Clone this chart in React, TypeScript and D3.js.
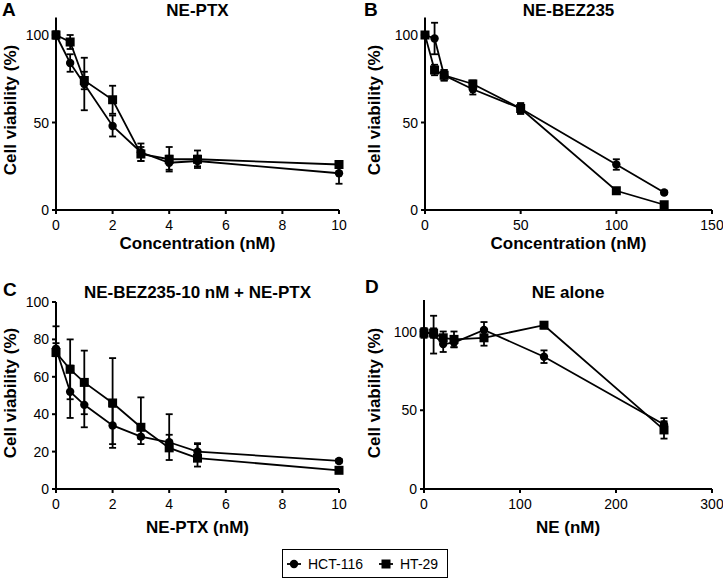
import React from "react";
import * as d3 from "d3";

// Panel A: NE-PTX
const aX = [0, 0.5, 1, 2, 3, 4, 5, 10];
const aHct = [100, 84, 72, 48, 33, 27, 28, 21];
const aHctErr = [2, 5, 15, 6, 5, 4, 3, 6];
const aHt = [100, 96, 74, 63, 32, 29, 29, 26];
const aHtErr = [2, 4, 5, 8, 4, 7, 5, 2];

// Panel B: NE-BEZ235
const bX = [0, 5, 10, 25, 50, 100, 125];
const bHct = [100, 98, 77, 69, 58, 26, 10];
const bHctErr = [1, 9, 3, 3, 3, 3, 1];
const bHt = [100, 80, 77, 72, 58, 11, 3];
const bHtErr = [1, 3, 3, 2, 3, 1, 1];

// Panel C: NE-BEZ235-10 nM + NE-PTX
const cX = [0, 0.5, 1, 2, 3, 4, 5, 10];
const cHct = [75, 52, 45, 34, 28, 25, 20, 15];
const cHctHi = [3, 14, 12, 10, 4, 4, 4, 1];
const cHctLo = [3, 14, 12, 10, 4, 4, 4, 1];
const cHt = [73, 64, 57, 46, 33, 22, 16.5, 10];
const cHtHi = [14, 16, 17, 24, 16, 18, 8, 1];
const cHtLo = [2, 16, 17, 24, 6, 6.5, 4.5, 1];

// Panel D: NE alone
const dX = [0, 10, 20, 31.25, 62.5, 125, 250];
const dHct = [100, 98, 92, 93, 101, 84, 41];
const dHctErr = [2, 12, 5, 3, 5, 4, 4];
const dHt = [99, 99, 96, 95, 96, 104, 37.5];
const dHtErr = [3, 3, 4, 5, 5, 2, 5.5];

const seriesNames = ["HCT-116", "HT-29"];

const FONT = "'Liberation Sans', Arial, Helvetica, sans-serif";

type Series = { y: number[]; hi: number[]; lo: number[]; marker: "circle" | "square" };

type PanelProps = {
  letter: string;
  letterPos: [number, number];
  title: string;
  titleY: number;
  xLabel: string;
  xLabelY: number;
  yLabel: string;
  yLabelPos: [number, number];
  xDomain: [number, number];
  xTicks: number[];
  yDomain: [number, number];
  yTicks: number[];
  xRange: [number, number];
  yRange: [number, number];
  xs: number[];
  series: Series[];
};

function Marker({ type, x, y }: { type: string; x: number; y: number }) {
  if (type === "circle") return <circle cx={x} cy={y} r={4.2} fill="#000" />;
  return <rect x={x - 4.5} y={y - 4.5} width={9} height={9} fill="#000" />;
}

function Panel(p: PanelProps) {
  const xs = d3.scaleLinear().domain(p.xDomain).range(p.xRange);
  const ys = d3.scaleLinear().domain(p.yDomain).range(p.yRange);
  const line = d3
    .line<number>()
    .x((_, i) => xs(p.xs[i]))
    .y((d) => ys(d));
  const y0 = p.yRange[0];
  const x0 = p.xRange[0];
  const xMid = (p.xRange[0] + p.xRange[1]) / 2;
  return (
    <g>
      <text x={p.letterPos[0]} y={p.letterPos[1]} fontSize={19} fontWeight="bold" fontFamily={FONT}>
        {p.letter}
      </text>
      <text x={xMid} y={p.titleY} fontSize={17} fontWeight="bold" fontFamily={FONT} textAnchor="middle">
        {p.title}
      </text>
      {/* axes */}
      <line x1={x0} x2={p.xRange[1]} y1={y0} y2={y0} stroke="#000" strokeWidth={2} />
      <line x1={x0} x2={x0} y1={y0} y2={p.yRange[1]} stroke="#000" strokeWidth={2} />
      {p.xTicks.map((t) => (
        <g key={"xt" + t}>
          <line x1={xs(t)} x2={xs(t)} y1={y0} y2={y0 + 4} stroke="#000" strokeWidth={2} />
          <text x={xs(t)} y={y0 + 20} fontSize={14} fontFamily={FONT} textAnchor="middle">
            {t}
          </text>
        </g>
      ))}
      {p.yTicks.map((t) => (
        <g key={"yt" + t}>
          <line x1={x0 - 4} x2={x0} y1={ys(t)} y2={ys(t)} stroke="#000" strokeWidth={2} />
          <text x={x0 - 7} y={ys(t) + 5} fontSize={14} fontFamily={FONT} textAnchor="end">
            {t}
          </text>
        </g>
      ))}
      <text x={xMid} y={p.xLabelY} fontSize={17} fontWeight="bold" fontFamily={FONT} textAnchor="middle">
        {p.xLabel}
      </text>
      <text
        transform={`translate(${p.yLabelPos[0]},${p.yLabelPos[1]}) rotate(-90)`}
        fontSize={17}
        fontWeight="bold"
        fontFamily={FONT}
        textAnchor="middle"
      >
        {p.yLabel}
      </text>
      {/* series */}
      {p.series.map((s, si) => (
        <g key={"s" + si}>
          {s.y.map((v, i) => {
            const cx = xs(p.xs[i]);
            const top = ys(v + s.hi[i]);
            const bot = ys(v - s.lo[i]);
            return (
              <g key={i} stroke="#000" strokeWidth={1.8}>
                <line x1={cx} x2={cx} y1={top} y2={bot} />
                <line x1={cx - 3.5} x2={cx + 3.5} y1={top} y2={top} />
                <line x1={cx - 3.5} x2={cx + 3.5} y1={bot} y2={bot} />
              </g>
            );
          })}
          <path d={line(s.y) || ""} fill="none" stroke="#000" strokeWidth={1.8} />
          {s.y.map((v, i) => (
            <Marker key={"m" + i} type={s.marker} x={xs(p.xs[i])} y={ys(v)} />
          ))}
        </g>
      ))}
    </g>
  );
}

export default function App() {
  return (
    <svg
      width={723}
      height={579}
      style={{ position: "absolute", left: 0, top: 0, background: "#fff" }}
    >
      <rect width={723} height={579} fill="#fff" />
      <Panel
        letter="A"
        letterPos={[2, 16]}
        title="NE-PTX"
        titleY={16}
        xLabel="Concentration (nM)"
        xLabelY={249}
        yLabel="Cell viability (%)"
        yLabelPos={[16, 110]}
        xDomain={[0, 10]}
        xTicks={[0, 2, 4, 6, 8, 10]}
        yDomain={[0, 110]}
        yTicks={[0, 50, 100]}
        xRange={[56, 339]}
        yRange={[210, 17.5]}
        xs={aX}
        series={[
          { y: aHct, hi: aHctErr, lo: aHctErr, marker: "circle" },
          { y: aHt, hi: aHtErr, lo: aHtErr, marker: "square" },
        ]}
      />
      <Panel
        letter="B"
        letterPos={[364, 16]}
        title="NE-BEZ235"
        titleY={16}
        xLabel="Concentration (nM)"
        xLabelY={249}
        yLabel="Cell viability (%)"
        yLabelPos={[380, 110]}
        xDomain={[0, 150]}
        xTicks={[0, 50, 100, 150]}
        yDomain={[0, 110]}
        yTicks={[0, 50, 100]}
        xRange={[425, 712]}
        yRange={[210, 17.5]}
        xs={bX}
        series={[
          { y: bHct, hi: bHctErr, lo: bHctErr, marker: "circle" },
          { y: bHt, hi: bHtErr, lo: bHtErr, marker: "square" },
        ]}
      />
      <Panel
        letter="C"
        letterPos={[3, 296]}
        title="NE-BEZ235-10 nM + NE-PTX"
        titleY={298}
        xLabel="NE-PTX (nM)"
        xLabelY={533}
        yLabel="Cell viability (%)"
        yLabelPos={[16, 393]}
        xDomain={[0, 10]}
        xTicks={[0, 2, 4, 6, 8, 10]}
        yDomain={[0, 100]}
        yTicks={[0, 20, 40, 60, 80, 100]}
        xRange={[56, 339]}
        yRange={[489, 302]}
        xs={cX}
        series={[
          { y: cHct, hi: cHctHi, lo: cHctLo, marker: "circle" },
          { y: cHt, hi: cHtHi, lo: cHtLo, marker: "square" },
        ]}
      />
      <Panel
        letter="D"
        letterPos={[365, 293]}
        title="NE alone"
        titleY={298}
        xLabel="NE (nM)"
        xLabelY={533}
        yLabel="Cell viability (%)"
        yLabelPos={[380, 393]}
        xDomain={[0, 300]}
        xTicks={[0, 100, 200, 300]}
        yDomain={[0, 120]}
        yTicks={[0, 50, 100]}
        xRange={[424, 712]}
        yRange={[489, 300]}
        xs={dX}
        series={[
          { y: dHct, hi: dHctErr, lo: dHctErr, marker: "circle" },
          { y: dHt, hi: dHtErr, lo: dHtErr, marker: "square" },
        ]}
      />
      {/* legend */}
      <g>
        <rect x={282.5} y={549.5} width={165} height={28} fill="#fff" stroke="#000" strokeWidth={1} />
        {seriesNames.map((name, i) => {
          const lx = i === 0 ? 287 : 379;
          return (
            <g key={name}>
              <line x1={lx} x2={lx + 14} y1={564} y2={564} stroke="#000" strokeWidth={1.8} />
              <Marker type={i === 0 ? "circle" : "square"} x={lx + 7} y={564} />
              <text x={lx + 21} y={569} fontSize={14} fontFamily={FONT}>
                {name}
              </text>
            </g>
          );
        })}
      </g>
    </svg>
  );
}
